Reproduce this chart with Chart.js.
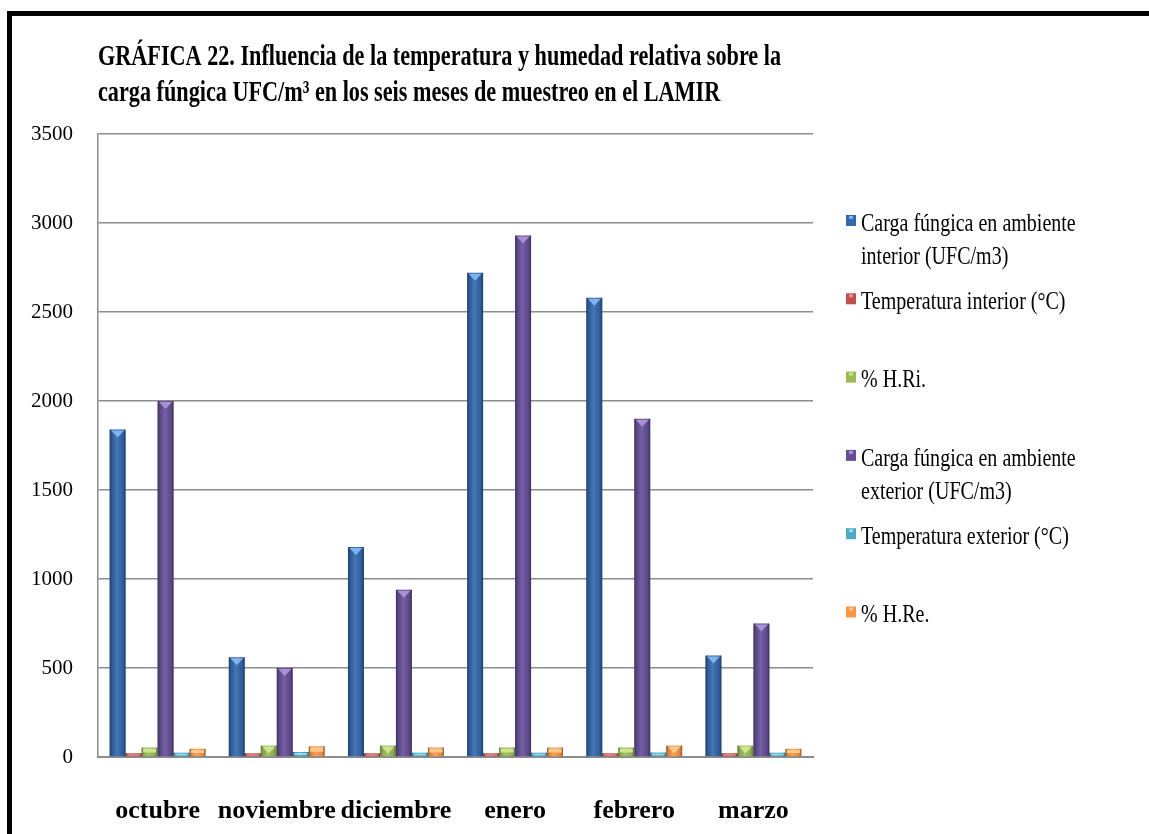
<!DOCTYPE html>
<html>
<head>
<meta charset="utf-8">
<script src="https://cdn.jsdelivr.net/npm/chart.js@4"></script>
<style>
  html, body { margin: 0; padding: 0; background: #fff; }
</style>
</head>
<body>
<canvas id="myChart" width="1149" height="834"></canvas>
<script>
// data
const months = ['octubre', 'noviembre', 'diciembre', 'enero', 'febrero', 'marzo'];
const cargaInterior = [1840, 560, 1180, 2720, 2580, 570];
const tempInterior = [21, 21, 21, 21, 21, 21];
const hrInterior = [53, 64, 64, 53, 53, 64];
const cargaExterior = [2000, 500, 940, 2930, 1900, 750];
const tempExterior = [24, 28, 24, 24, 25, 24];
const hrExterior = [46, 60, 53, 53, 64, 46];
const seriesNames = [
  'Carga fúngica en ambiente\ninterior (UFC/m3)',
  'Temperatura interior (°C)',
  '% H.Ri.',
  'Carga fúngica en ambiente\nexterior (UFC/m3)',
  'Temperatura exterior (°C)',
  '% H.Re.'
];
const yMax = 3500;
const yStep = 500;

const titleLines = [
  'GRÁFICA 22. Influencia de la temperatura y humedad relativa sobre la',
  'carga fúngica UFC/m³ en los seis meses de muestreo en el LAMIR'
];

const colors = ['#3467ab', '#c0504d', '#9bbb59', '#654f98', '#4bacc6', '#f79646'];
const topColors = ['#7db3f0', '#f08f8b', '#cde68e', '#ab8fd6', '#94dcef', '#ffc889'];

const seriesData = [cargaInterior, tempInterior, hrInterior, cargaExterior, tempExterior, hrExterior];

const datasets = seriesData.map((d, i) => ({
  label: seriesNames[i],
  data: d,
  backgroundColor: colors[i],
  borderWidth: 0,
  categoryPercentage: 0.805,
  barPercentage: 1.0
}));

// white page + black frame lines
const frame = {
  id: 'frame',
  beforeDraw(chart) {
    const ctx = chart.ctx;
    ctx.save();
    ctx.fillStyle = '#fff';
    ctx.fillRect(0, 0, chart.width, chart.height);
    ctx.fillStyle = '#000';
    ctx.fillRect(7, 11, chart.width - 7, 5);
    ctx.fillRect(7, 11, 5, chart.height - 11);
    ctx.restore();
  }
};

// bevel look on the bars
const bevel = {
  id: 'bevel',
  afterDatasetsDraw(chart) {
    const ctx = chart.ctx;
    ctx.save();
    chart.data.datasets.forEach((ds, i) => {
      const meta = chart.getDatasetMeta(i);
      meta.data.forEach(bar => {
        const p = bar.getProps(['x', 'y', 'base', 'width'], true);
        const l = p.x - p.width / 2, h = p.base - p.y, w = p.width;
        const g = ctx.createLinearGradient(l, 0, l + w, 0);
        g.addColorStop(0, 'rgba(0,0,0,0.38)');
        g.addColorStop(0.18, 'rgba(0,0,0,0.08)');
        g.addColorStop(0.45, 'rgba(255,255,255,0.10)');
        g.addColorStop(0.82, 'rgba(0,0,0,0.08)');
        g.addColorStop(1, 'rgba(0,0,0,0.38)');
        ctx.fillStyle = g;
        ctx.fillRect(l, p.y, w, h);
        ctx.fillStyle = topColors[i];
        const d = w * 0.5;
        if (h > d + 2) {
          ctx.beginPath();
          ctx.moveTo(l + 1.5, p.y + 1);
          ctx.lineTo(l + w - 1.5, p.y + 1);
          ctx.lineTo(p.x, p.y + d);
          ctx.closePath();
          ctx.fill();
        } else {
          ctx.fillRect(l + 1.5, p.y + 1, w - 3, Math.max(1, h * 0.45));
        }
      });
    });
    ctx.restore();
  }
};

// condensed title drawn on canvas
const condensedTitle = {
  id: 'condensedTitle',
  afterDraw(chart) {
    const ctx = chart.ctx;
    ctx.save();
    ctx.fillStyle = '#000';
    ctx.font = 'bold 30px "Liberation Serif"';
    ctx.textBaseline = 'alphabetic';
    titleLines.forEach((t, i) => {
      ctx.save();
      ctx.translate(98, 65 + i * 36);
      ctx.scale(0.74, 1);
      ctx.fillText(t, 0, 0);
      ctx.restore();
    });
    ctx.restore();
  }
};

// legend on the right, one slot per series
const sideLegend = {
  id: 'sideLegend',
  afterDraw(chart) {
    const ctx = chart.ctx;
    const x0 = 846, slot = 78.3, firstY = 224;
    ctx.save();
    ctx.font = '26px "Liberation Serif"';
    ctx.textBaseline = 'middle';
    chart.data.datasets.forEach((ds, i) => {
      const y = firstY + i * slot;
      ctx.fillStyle = ds.backgroundColor;
      ctx.fillRect(x0, y - 9, 10, 11);
      ctx.fillStyle = topColors[i];
      ctx.fillRect(x0 + 3, y - 8, 4, 3);
      ctx.fillStyle = '#000';
      ds.label.split('\n').forEach((line, k) => {
        ctx.save();
        ctx.translate(x0 + 15, y + k * 33);
        ctx.scale(0.77, 1);
        ctx.fillText(line, 0, 0);
        ctx.restore();
      });
    });
    ctx.restore();
  }
};

const config = {
  type: 'bar',
  data: { labels: months, datasets: datasets },
  options: {
    responsive: false,
    animation: false,
    devicePixelRatio: 1,
    layout: { padding: { left: 12, right: 336, top: 134, bottom: 0 } },
    plugins: {
      legend: { display: false },
      title: { display: false },
      tooltip: { enabled: false }
    },
    scales: {
      x: {
        grid: { display: false, drawTicks: false },
        border: { display: true, color: '#8c8c8c', width: 2 },
        ticks: {
          color: '#000',
          padding: 39,
          autoSkip: false,
          maxRotation: 0,
          minRotation: 0,
          font: { family: '"Liberation Serif"', size: 26, weight: 'bold' }
        },
        afterFit(scale) { scale.height = 77; }
      },
      y: {
        min: 0,
        max: yMax,
        grid: { color: '#8c8c8c', lineWidth: 1.5, drawTicks: false },
        border: { display: true, color: '#8c8c8c', width: 1.5 },
        ticks: {
          stepSize: yStep,
          color: '#000',
          padding: 25,
          callback: v => String(v),
          font: { family: '"Liberation Serif"', size: 21 }
        },
        afterFit(scale) { scale.width = 86; }
      }
    }
  },
  plugins: [frame, bevel, condensedTitle, sideLegend]
};

const myChart = new Chart(document.getElementById('myChart'), config);
</script>
</body>
</html>
